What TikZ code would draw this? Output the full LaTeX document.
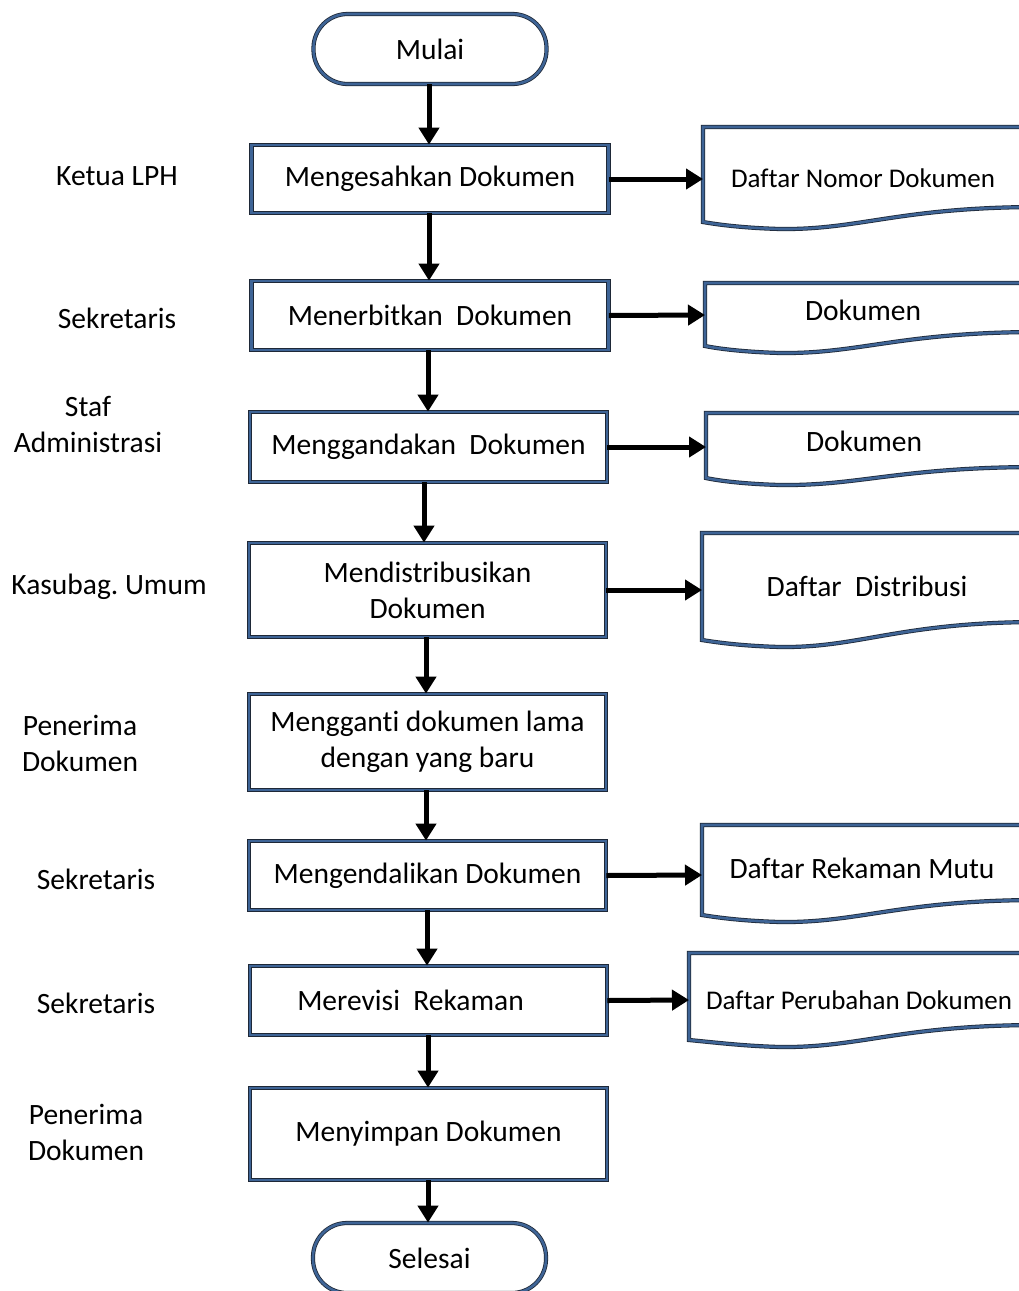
\documentclass[tikz,border=0pt]{standalone}
\usepackage{fontspec}
\setmainfont{Carlito}[Ligatures={NoCommon}]
\usetikzlibrary{arrows.meta}
\frenchspacing
\definecolor{bord}{RGB}{62,100,150}
\definecolor{edgec}{RGB}{30,40,55}
\tikzset{
  frame/.style={draw=edgec, line width=0.8pt, double=bord, double distance=2.6pt},
  procbox/.style={frame, fill=white, rectangle, inner sep=0pt, minimum width=357pt, align=center, font=\fontsize{29.5}{36}\selectfont},
  term/.style={frame, fill=white, rectangle, rounded corners=34pt, minimum width=233pt, minimum height=70pt, inner sep=0pt, font=\fontsize{29.5}{36}\selectfont},
  lbl/.style={align=center, font=\fontsize{29.5}{36}\selectfont, inner sep=0pt},
  doctxt/.style={inner sep=0pt, font=\fontsize{29.5}{36}\selectfont},
  doctxtsmall/.style={inner sep=0pt, font=\fontsize{27}{33}\selectfont},
  flow/.style={line width=5pt, -{Triangle[length=17pt,width=20pt]}},
}
\newcommand{\docshape}[4]{% x0, top, bottom-left, bottom-right
  \draw[frame, fill=white] (#1,#3) -- (#1,#2) -- (1040,#2) -- (1040,#4)
    .. controls (900,#4) and (860,#3+8) .. (780,#3+7)
    .. controls (745,#3+6) and (720,#3+3) .. (#1,#3) -- cycle;}
\begin{document}
\begin{tikzpicture}[x=1pt,y=-1pt]
\useasboundingbox (0,0) rectangle (1019,1291);
\clip (0,0) rectangle (1019,1291);
\fill[white] (0,0) rectangle (1019,1291);

% document shapes
\docshape{703}{127}{222}{207}
\docshape{705}{283}{346}{332}
\docshape{706}{413}{478}{467}
\docshape{702}{533}{640}{622}
\docshape{702}{825}{915}{900}
\docshape{689}{953}{1040}{1025}

\coordinate (d1) at (703,179);
\coordinate (d2) at (705,315);
\coordinate (d3) at (706,447);
\coordinate (d4) at (702,590);
\coordinate (d6) at (702,875);
\coordinate (d7) at (689,1000);

\node[doctxtsmall] (t1) at (863,178) {Daftar Nomor Dokumen};
\node[doctxt] (t2) at (863,310) {Dokumen};
\node[doctxt] (t3) at (864,441) {Dokumen};
\node[doctxt] (t4) at (867,586) {Daftar\ \ Distribusi};
\node[doctxt] (t6) at (862,868) {Daftar Rekaman Mutu};
\node[doctxtsmall] (t7) at (859,1000) {Daftar Perubahan Dokumen};

% terminals
\node[term] (start) at (430,49) {Mulai};
\node[term] (end) at (429.5,1258) {Selesai};

% process boxes
\node[procbox, minimum height=68pt] (b1) at (430,179) {Mengesahkan Dokumen};
\node[procbox, minimum height=69pt] (b2) at (430,315.5) {Menerbitkan\ \ Dokumen};
\node[procbox, minimum height=70pt] (b3) at (428.5,447) {Menggandakan\ \ Dokumen};
\node[procbox, minimum height=94pt] (b4) at (427.5,590) {Mendistribusikan\\Dokumen};
\node[procbox, minimum height=96pt] (b5) at (427.5,742) {Mengganti dokumen lama\\dengan yang baru};
\node[procbox, minimum height=69pt] (b6) at (427.5,875.5) {Mengendalikan Dokumen};
\node[procbox, minimum height=69pt] (b7) at (428.5,1000.5) {\hspace*{-36pt}Merevisi\ \ Rekaman};
\node[procbox, minimum height=92pt] (b8) at (428.5,1134) {Menyimpan Dokumen};

% left labels
\node[lbl] (l1) at (117,176) {Ketua LPH};
\node[lbl] (l2) at (117,318) {Sekretaris};
\node[lbl] (l3) at (88,424) {Staf\\Administrasi};
\node[lbl] (l4) at (109,587) {Kasubag. Umum};
\node[lbl] (l5) at (80,743) {Penerima\\Dokumen};
\node[lbl] (l6) at (96,879) {Sekretaris};
\node[lbl] (l7) at (96,1003) {Sekretaris};
\node[lbl] (l8) at (86,1132) {Penerima\\Dokumen};

% vertical flow
\draw[flow] (start.south -| 429,0) -- (b1.north -| 429,0);
\draw[flow] (b1.south -| 429,0) -- (b2.north -| 429,0);
\draw[flow] (b2.south -| 428,0) -- (b3.north -| 428,0);
\draw[flow] (b3.south -| 424,0) -- (b4.north -| 424,0);
\draw[flow] (b4.south -| 426,0) -- (b5.north -| 426,0);
\draw[flow] (b5.south -| 426,0) -- (b6.north -| 426,0);
\draw[flow] (b6.south -| 427,0) -- (b7.north -| 427,0);
\draw[flow] (b7.south -| 428,0) -- (b8.north -| 428,0);
\draw[flow] (b8.south -| 428,0) -- (end.north -| 428,0);

% horizontal flow
\draw[flow] (b1.east) -- (d1);
\draw[flow] (b2.east) -- (d2);
\draw[flow] (b3.east) -- (d3);
\draw[flow] (b4.east) -- (d4);
\draw[flow] (b6.east) -- (d6);
\draw[flow] (b7.east) -- (d7);
\end{tikzpicture}
\end{document}
